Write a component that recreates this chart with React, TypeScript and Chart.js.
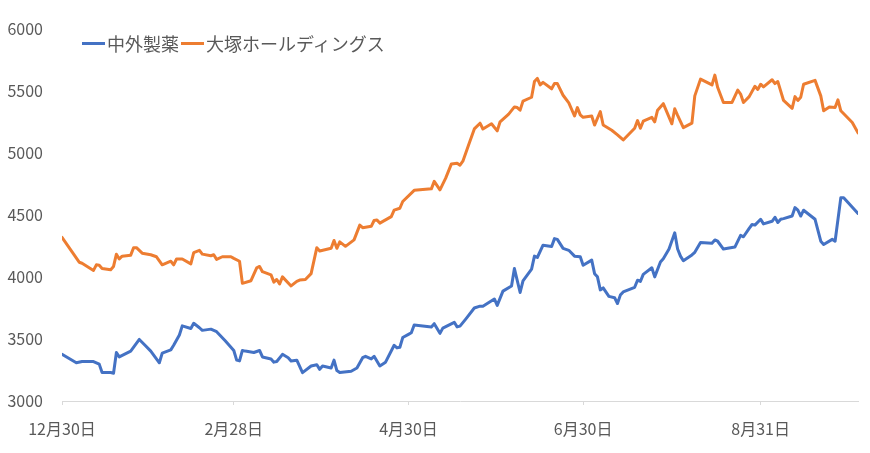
import React, { useEffect, useRef } from 'react';
import { Chart } from 'chart.js/auto';

// days counted from 12月30日
const tickDays = [0, 60, 121, 182, 244];
const tickLabels = ['12月30日', '2月28日', '4月30日', '6月30日', '8月31日'];

const chugaiDays = [
    0, 5, 7, 11, 13, 14, 17, 18, 19, 20, 24, 27, 29, 31, 34, 35, 38, 39, 41, 42, 45, 46, 48, 49, 52, 54, 57,
    60, 61, 62, 63, 64, 67, 69, 70, 73, 74, 75, 77, 79, 80, 82, 84, 87, 89, 90, 91, 94, 95, 96, 97, 101, 103,
    105, 106, 108, 109, 111, 113, 116, 117, 118, 119, 121, 122, 123, 129, 130, 132, 133, 137, 138, 139, 141,
    144, 146, 147, 151, 152, 154, 157, 158, 160, 161, 164, 165, 166, 168, 171, 172, 173, 175, 177, 179, 181,
    182, 185, 186, 187, 188, 189, 191, 193, 194, 195, 196, 200, 201, 202, 203, 206, 207, 209, 210, 212, 214,
    215, 216, 217, 220, 221, 223, 227, 228, 229, 231, 235, 237, 238, 240, 241, 242, 244, 245, 248, 249, 250,
    251, 252, 255, 256, 257, 258, 259, 263, 265, 266, 269, 270, 272, 273, 278,
];
const chugaiValues = [
    3376, 3308, 3318, 3318, 3297, 3229, 3229, 3224, 3391, 3355, 3402, 3496, 3449, 3402, 3308, 3386, 3412, 3449, 3532, 3605, 3584, 3626, 3590, 3569, 3579, 3558, 3485,
    3407, 3329, 3323, 3407, 3402, 3391, 3407, 3355, 3339, 3313, 3318, 3376, 3349, 3323, 3329, 3229, 3282, 3292, 3255, 3282, 3266, 3329, 3245, 3229, 3240, 3266,
    3349, 3360, 3339, 3360, 3282, 3313, 3449, 3428, 3433, 3511, 3537, 3550, 3613, 3597, 3623, 3545, 3587, 3634, 3597, 3603, 3660,
    3749, 3764, 3764, 3822, 3770, 3885, 3927, 4067, 3874, 3968, 4062, 4167, 4156, 4255, 4245, 4308, 4302, 4230, 4214, 4167, 4162,
    4093, 4135, 4026, 4000, 3895, 3911, 3843, 3832, 3785, 3853, 3879, 3916, 3973, 3963, 4020, 4073, 4000, 4120, 4146, 4224, 4355,
    4224, 4167, 4130, 4177, 4198, 4276, 4271, 4297, 4287, 4224, 4240, 4334, 4323, 4391, 4422, 4417, 4464, 4427, 4448, 4480, 4438,
    4464, 4469, 4490, 4558, 4537, 4490, 4537, 4464, 4287, 4261, 4302, 4287, 4637, 4637, 4511,
];

const otsukaDays = [
    0, 6, 7, 11, 12, 13, 14, 17, 18, 19, 20, 21, 24, 25, 26, 28, 31, 33, 35, 38, 39, 40, 42, 45, 46, 48, 49,
    52, 53, 54, 56, 59, 60, 62, 63, 66, 68, 69, 70, 73, 74, 75, 76, 77, 80, 82, 83, 85, 87, 89, 90, 94, 95,
    96, 97, 99, 102, 104, 105, 108, 109, 110, 111, 115, 116, 118, 119, 123, 129, 130, 132, 134, 136, 138,
    139, 140, 142, 144, 146, 147, 150, 152, 153, 156, 158, 159, 160, 161, 164, 165, 166, 167, 168, 171, 172,
    173, 175, 177, 179, 180, 181, 182, 185, 186, 188, 189, 192, 194, 196, 200, 201, 202, 203, 206, 207, 208,
    210, 213, 214, 215, 217, 220, 221, 223, 227, 228, 229, 231, 234, 236, 237, 238, 240, 242, 243, 244, 245,
    248, 249, 250, 252, 255, 256, 257, 258, 259, 263, 265, 266, 268, 270, 271, 272, 276, 278,
];
const otsukaValues = [
    4318, 4118, 4110, 4052, 4097, 4094, 4068, 4058, 4084, 4183, 4144, 4167, 4175, 4235, 4235, 4191, 4178, 4162, 4097, 4126, 4097, 4144, 4144, 4105, 4196, 4214, 4183,
    4170, 4178, 4141, 4162, 4162, 4149, 4126, 3948, 3969, 4073, 4084, 4042, 4016, 3958, 3979, 3943, 4000, 3927, 3964, 3974, 3979, 4026, 4235, 4209, 4230, 4293,
    4230, 4282, 4246, 4298, 4417, 4396, 4407, 4454, 4459, 4433, 4485, 4537, 4553, 4607, 4697, 4709, 4769, 4701, 4795, 4910, 4916,
    4900, 4932, 5062, 5192, 5238, 5191, 5233, 5176, 5249, 5311, 5369, 5364, 5343, 5416, 5447, 5573, 5599, 5546, 5567, 5515, 5557,
    5557, 5463, 5401, 5296, 5364, 5305, 5285, 5296, 5223, 5332, 5223, 5181, 5144, 5103, 5197, 5259, 5197, 5254, 5285, 5249, 5343,
    5395, 5233, 5354, 5301, 5202, 5238, 5458, 5593, 5546, 5625, 5525, 5405, 5405, 5505, 5473, 5405, 5452, 5536, 5510, 5552, 5531,
    5588, 5557, 5573, 5421, 5358, 5452, 5421, 5447, 5552, 5583, 5458, 5338, 5369, 5364, 5426, 5338, 5244, 5160,
];

const seriesNames = ['中外製薬', '大塚ホールディングス'];
const blue = '#4472C4';
const orange = '#ED7D31';
const textColor = '#595959';
const axisColor = '#D9D9D9';
const fontFamily = '"Noto Sans CJK JP", "Noto Sans", sans-serif';

const App: React.FC = () => {
    const chartRef = useRef<HTMLCanvasElement>(null);
    const chartInstance = useRef<Chart | null>(null);

    useEffect(() => {
        document.body.style.margin = '0';
        if (!chartRef.current) return;
        if (chartInstance.current) chartInstance.current.destroy();

        const toPoints = (days: number[], values: number[]) => days.map((d, i) => ({ x: d, y: values[i] }));

        chartInstance.current = new Chart(chartRef.current, {
            type: 'line',
            data: {
                datasets: [
                    {
                        label: seriesNames[0],
                        data: toPoints(chugaiDays, chugaiValues),
                        borderColor: blue,
                        backgroundColor: blue,
                        borderWidth: 3,
                        borderJoinStyle: 'round',
                        borderCapStyle: 'round',
                        pointRadius: 0,
                        tension: 0,
                        fill: false,
                    },
                    {
                        label: seriesNames[1],
                        data: toPoints(otsukaDays, otsukaValues),
                        borderColor: orange,
                        backgroundColor: orange,
                        borderWidth: 3,
                        borderJoinStyle: 'round',
                        borderCapStyle: 'round',
                        pointRadius: 0,
                        tension: 0,
                        fill: false,
                    },
                ],
            },
            options: {
                responsive: true,
                maintainAspectRatio: false,
                animation: false,
                layout: { padding: { left: 0, right: 12, top: 17, bottom: 0 } },
                plugins: {
                    legend: { display: false },
                    tooltip: { enabled: false },
                },
                scales: {
                    x: {
                        type: 'linear',
                        min: 0,
                        max: 278,
                        afterBuildTicks: (axis: any) => {
                            axis.ticks = tickDays.map((v) => ({ value: v }));
                        },
                        afterFit: (axis: any) => {
                            axis.height = 52;
                        },
                        grid: {
                            display: true,
                            drawOnChartArea: false,
                            drawTicks: true,
                            tickLength: 4,
                            color: axisColor,
                        },
                        border: { display: true, color: axisColor, width: 1 },
                        ticks: {
                            color: textColor,
                            padding: 14,
                            maxRotation: 0,
                            autoSkip: false,
                            font: { size: 16, family: fontFamily },
                            callback: (_v: any, i: number) => tickLabels[i],
                        },
                    },
                    y: {
                        min: 3000,
                        max: 6000,
                        afterFit: (axis: any) => {
                            axis.width = 62;
                        },
                        grid: { display: false, drawTicks: false },
                        border: { display: false },
                        ticks: {
                            stepSize: 500,
                            color: textColor,
                            padding: 19,
                            font: { size: 16, family: fontFamily },
                            callback: (v: any) => String(v),
                        },
                    },
                },
            },
        });

        return () => {
            if (chartInstance.current) {
                chartInstance.current.destroy();
                chartInstance.current = null;
            }
        };
    }, []);

    const colors = [blue, orange];

    return (
        <div style={{ position: 'relative', width: 870, height: 453, background: '#fff' }}>
            <canvas ref={chartRef} />
            <div
                style={{
                    position: 'absolute',
                    left: 82,
                    top: 32,
                    display: 'flex',
                    alignItems: 'center',
                    fontFamily,
                    fontSize: 18,
                    lineHeight: '22px',
                    color: textColor,
                    whiteSpace: 'nowrap',
                }}
            >
                {seriesNames.map((name, i) => (
                    <React.Fragment key={name}>
                        <span style={{ display: 'inline-block', width: 23, height: 3, background: colors[i], marginRight: 2 }} />
                        <span style={{ marginRight: 2 }}>{name}</span>
                    </React.Fragment>
                ))}
            </div>
        </div>
    );
};

export default App;
